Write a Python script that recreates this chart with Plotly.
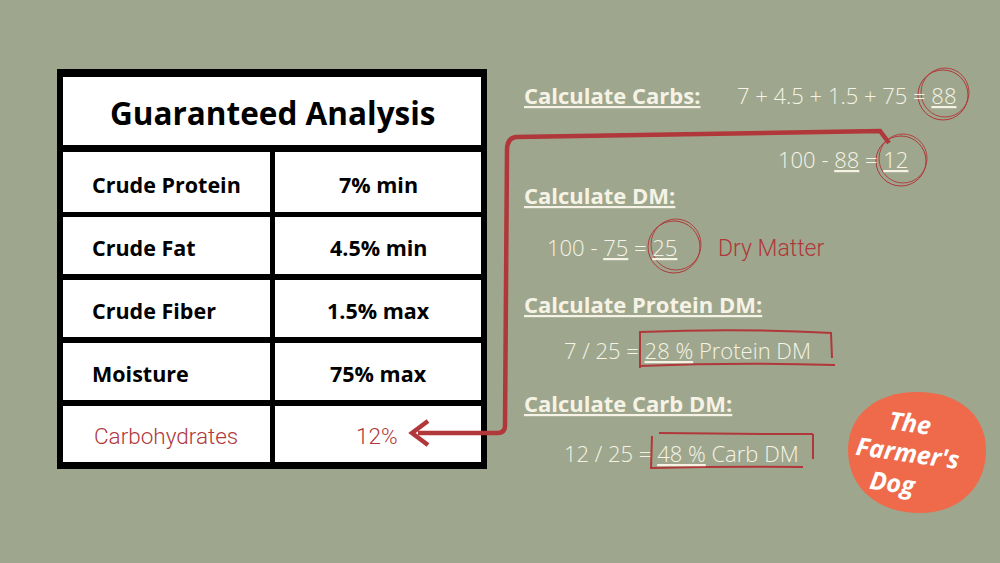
import plotly.graph_objects as go

# table content
title = "Guaranteed Analysis"
nutrients = ["Crude Protein", "Crude Fat", "Crude Fiber", "Moisture", "Carbohydrates"]
amounts = ["7% min", "4.5% min", "1.5% max", "75% max", "12%"]

# calculation steps
headings = ["Calculate Carbs:", "Calculate DM:", "Calculate Protein DM:", "Calculate Carb DM:"]
carb_sum = "7 + 4.5 + 1.5 + 75 = <u>88</u>"
carb_diff = "100 - <u>88</u> = <u>12</u>"
dm_calc = "100 - <u>75</u> = <u>25</u>"
dm_note = "Dry Matter"
protein_dm = "7 / 25 = <u>28 %</u> Protein DM"
carb_dm = "12 / 25 = <u>48 %</u> Carb DM"
logo = ["The", "Farmer's", "Dog"]

BG = "#9ea78d"
RED = "#b0373a"
CREAM = "#f6f3e6"
ORANGE = "#ee6a4b"

fig = go.Figure()
fig.add_trace(go.Scatter(x=[0, 1000], y=[0, 563], mode="markers",
                         marker=dict(opacity=0), hoverinfo="skip", showlegend=False))

shapes = []
# table frame
shapes.append(dict(type="rect", x0=57, x1=487, y0=69, y1=469,
                   fillcolor="black", line=dict(width=0), layer="below"))
shapes.append(dict(type="rect", x0=63, x1=481, y0=77, y1=145,
                   fillcolor="white", line=dict(width=0), layer="below"))
row_top = [152, 217, 280, 343, 406]
row_bot = [212, 274, 337, 400, 462]
for t, b in zip(row_top, row_bot):
    shapes.append(dict(type="rect", x0=63, x1=270, y0=t, y1=b,
                       fillcolor="white", line=dict(width=0), layer="below"))
    shapes.append(dict(type="rect", x0=275, x1=481, y0=t, y1=b,
                       fillcolor="white", line=dict(width=0), layer="below"))

# red connector line from the 12 down to the table
shapes.append(dict(type="path",
                   path="M 889,143 L 880,131 L 516,137 Q 507,138 507,150 L 505,426 "
                        "Q 505,433 497,433 L 418,433",
                   line=dict(color=RED, width=4.5)))
shapes.append(dict(type="path", path="M 428,421 L 412,433 L 428,445",
                   line=dict(color=RED, width=4.5)))

# hand drawn circles (double stroke)
for cx, cy, r in [(943, 95, 25), (901, 161, 25), (674, 247, 26)]:
    shapes.append(dict(type="circle", x0=cx - r, x1=cx + r, y0=cy - r, y1=cy + r,
                       line=dict(color=RED, width=1)))
    shapes.append(dict(type="circle", x0=cx - r + 3, x1=cx + r + 1, y0=cy - r - 2, y1=cy + r - 3,
                       line=dict(color=RED, width=0.9)))

# hand drawn boxes
shapes.append(dict(type="path",
                   path="M 640,331 L 640,368 M 639,366 Q 740,362 835,365 M 640,332 Q 740,328 832,333 M 831,333 L 832,358",
                   line=dict(color=RED, width=2)))
shapes.append(dict(type="path",
                   path="M 652,436 L 651,469 M 651,468 Q 730,466 803,467 M 659,433 Q 740,434 813,434 M 813,434 L 813,459",
                   line=dict(color=RED, width=2)))

# logo blob
shapes.append(dict(type="path",
                   path="M 917,392 C 962,392 986,418 986,450 C 986,488 958,513 920,513 "
                        "C 878,513 848,488 848,450 C 848,415 876,392 917,392 Z",
                   fillcolor=ORANGE, line=dict(width=0)))

ann = []
ann.append(dict(x=273, y=112, text="<b>" + title + "</b>", showarrow=False,
                font=dict(family="Open Sans", size=31.5, color="black")))
for i, (n, a) in enumerate(zip(nutrients, amounts)):
    yc = (row_top[i] + row_bot[i]) / 2 + 2
    if n == "Carbohydrates":
        f = dict(family="Roboto", size=22.5, color=RED, weight=300)
        ann.append(dict(x=92, y=yc, text=n, xanchor="left", showarrow=False, font=f))
        ann.append(dict(x=377, y=yc, text=a, showarrow=False, font=f))
    else:
        f = dict(family="Open Sans", size=21.5, color="black", weight="bold")
        ann.append(dict(x=90, y=yc, text=n, xanchor="left", showarrow=False, font=f))
        ann.append(dict(x=378, y=yc, text=a, showarrow=False, font=f))

head_font = dict(family="Open Sans", size=22, color=CREAM, weight="bold")
for txt, yc in zip(headings, [95, 195, 304, 403]):
    ann.append(dict(x=522, y=yc, text="<u>" + txt + "</u>", xanchor="left",
                    showarrow=False, font=head_font))

eq_font = dict(family="Open Sans", size=22, color=CREAM, weight=300)
for txt, xl, yc in [(carb_sum, 735, 95), (carb_diff, 776, 159), (dm_calc, 545, 247),
                    (protein_dm, 562, 350), (carb_dm, 562, 453)]:
    ann.append(dict(x=xl, y=yc, text=txt, xanchor="left", showarrow=False, font=eq_font))
ann.append(dict(x=716, y=248, text=dm_note, xanchor="left", showarrow=False,
                font=dict(family="Roboto", size=23, color=RED, weight=300)))

logo_font = dict(family="Open Sans", size=25, color="white", weight="bold", style="italic")
for txt, xc, yc in zip(logo, [910, 908, 893], [422, 452, 482]):
    ann.append(dict(x=xc, y=yc, text=txt, showarrow=False, textangle=8, font=logo_font))

fig.update_layout(
    width=1000, height=563,
    margin=dict(l=0, r=0, t=0, b=0),
    paper_bgcolor=BG, plot_bgcolor=BG,
    xaxis=dict(range=[0, 1000], visible=False, fixedrange=True),
    yaxis=dict(range=[563, 0], visible=False, fixedrange=True),
    shapes=shapes, annotations=ann,
    showlegend=False,
)
fig.write_html("out.html", config={"displayModeBar": False},
               post_script="document.body.style.margin='0';document.body.style.overflow='hidden';")
